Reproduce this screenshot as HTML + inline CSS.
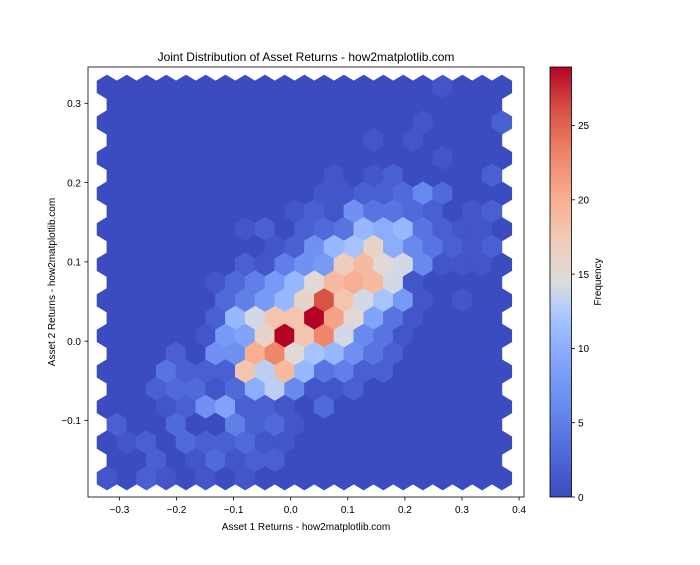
<!DOCTYPE html>
<html><head><meta charset="utf-8"><style>
body{margin:0;background:#fff;}
svg text{font-family:"Liberation Sans","DejaVu Sans",sans-serif;fill:#000;}
</style></head><body>
<svg id="s" width="700" height="560" xmlns="http://www.w3.org/2000/svg">
<defs><linearGradient id="cb" x1="0" y1="1" x2="0" y2="0">
<stop offset="0" stop-color="#3b4cc0"/><stop offset="0.1" stop-color="#4f69d9"/><stop offset="0.2" stop-color="#6687ed"/><stop offset="0.3" stop-color="#7ea0fa"/><stop offset="0.4" stop-color="#9ebeff"/><stop offset="0.45" stop-color="#bcd0f5"/><stop offset="0.5" stop-color="#dddcdc"/><stop offset="0.6" stop-color="#f2cbb7"/><stop offset="0.7" stop-color="#f7ac8e"/><stop offset="0.8" stop-color="#ee8468"/><stop offset="0.9" stop-color="#d65244"/><stop offset="1" stop-color="#b40426"/>
</linearGradient><clipPath id="ax"><rect x="88" y="67" width="436" height="430"/></clipPath></defs>
<g id="hex" clip-path="url(#ax)"></g>
<rect x="88" y="67" width="436" height="430" fill="none" stroke="#000" stroke-width="0.8"/>
<g stroke="#000" stroke-width="0.8">
<line x1="119.4" y1="497" x2="119.4" y2="500.5"/><line x1="176.5" y1="497" x2="176.5" y2="500.5"/><line x1="233.6" y1="497" x2="233.6" y2="500.5"/><line x1="290.7" y1="497" x2="290.7" y2="500.5"/><line x1="347.8" y1="497" x2="347.8" y2="500.5"/><line x1="404.9" y1="497" x2="404.9" y2="500.5"/><line x1="462" y1="497" x2="462" y2="500.5"/><line x1="519.1" y1="497" x2="519.1" y2="500.5"/>
<line x1="84.5" y1="103.3" x2="88" y2="103.3"/><line x1="84.5" y1="182.6" x2="88" y2="182.6"/><line x1="84.5" y1="261.9" x2="88" y2="261.9"/><line x1="84.5" y1="341.2" x2="88" y2="341.2"/><line x1="84.5" y1="420.5" x2="88" y2="420.5"/>
</g>
<g font-size="10" text-anchor="middle">
<text x="119.4" y="513">−0.3</text><text x="176.5" y="513">−0.2</text><text x="233.6" y="513">−0.1</text><text x="290.7" y="513">0.0</text><text x="347.8" y="513">0.1</text><text x="404.9" y="513">0.2</text><text x="462" y="513">0.3</text><text x="519.1" y="513">0.4</text>
</g>
<g font-size="10" text-anchor="end">
<text x="81" y="107">0.3</text><text x="81" y="186.5">0.2</text><text x="81" y="265.5">0.1</text><text x="81" y="345">0.0</text><text x="81" y="424">−0.1</text>
</g>
<text x="306" y="61" font-size="12" text-anchor="middle">Joint Distribution of Asset Returns - how2matplotlib.com</text>
<text x="306" y="530" font-size="10" text-anchor="middle">Asset 1 Returns - how2matplotlib.com</text>
<text transform="translate(55,282) rotate(-90)" font-size="10" text-anchor="middle">Asset 2 Returns - how2matplotlib.com</text>
<rect x="550" y="67" width="21.5" height="430" fill="url(#cb)" stroke="#000" stroke-width="0.8"/>
<g stroke="#000" stroke-width="0.8">
<line x1="571.5" y1="497" x2="575" y2="497"/><line x1="571.5" y1="422.7" x2="575" y2="422.7"/><line x1="571.5" y1="348.4" x2="575" y2="348.4"/><line x1="571.5" y1="274.1" x2="575" y2="274.1"/><line x1="571.5" y1="199.8" x2="575" y2="199.8"/><line x1="571.5" y1="125.5" x2="575" y2="125.5"/>
</g>
<g font-size="10">
<text x="578" y="501">0</text><text x="578" y="426.5">5</text><text x="578" y="352">10</text><text x="578" y="278">15</text><text x="578" y="203.5">20</text><text x="578" y="129">25</text>
</g>
<text transform="translate(601,282) rotate(-90)" font-size="10" text-anchor="middle">Frequency</text>
</svg>
<script>
var stops=[[0,59,76,192],[0.1,79,105,217],[0.2,102,135,237],[0.3,126,160,250],[0.4,158,190,255],[0.45,188,208,245],[0.5,221,220,220],[0.6,242,203,183],[0.7,247,172,142],[0.8,238,132,104],[0.9,214,82,68],[1,180,4,38]];
function cm(v){v=Math.max(0,Math.min(1,v));for(var i=1;i<stops.length;i++){if(v<=stops[i][0]){var a=stops[i-1],b=stops[i],t=(v-a[0])/(b[0]-a[0]);return 'rgb('+[1,2,3].map(function(j){return Math.round(a[j]+(b[j]-a[j])*t)}).join(',')+')';}}return 'rgb(180,4,38)';}
var D={
0:{17:1},2:{16:1,20:2},3:{13:1,15:1},4:{17:1},
5:{11:1,13:1,14:2,19:2},
6:{11:1,12:1,13:2,14:2,15:3,16:6,17:3},
7:{9:1,10:2,11:1,12:7,13:4,14:4,15:3,16:2,18:1,19:2},
8:{7:1,8:2,10:2,11:3,12:4,13:11,14:10,15:11,16:4,17:2,18:1,19:1},
9:{8:1,9:2,10:7,11:11,12:12,13:16,14:10,15:6,16:4,17:2,18:1,19:2},
10:{7:2,8:1,9:5,10:7,11:8,12:17,13:19,14:15,15:14,16:6,17:1,18:1,19:1},
11:{5:1,6:3,7:5,8:8,9:11,10:15,11:19,12:20,13:19,14:14,15:1},
12:{6:3,7:5,8:8,9:11,10:16,11:26,12:18,13:14,14:12,15:8,16:1,18:1},
13:{5:2,6:11,7:14,8:18,9:18,10:29,11:21,12:15,13:9,14:4,15:1},
14:{5:1,6:8,7:9,8:16,9:29,10:18,11:23,12:14,13:6,14:4,15:1},
15:{3:2,5:7,6:7,7:20,8:23,9:15,10:12,11:11,12:7,13:4,14:2},
16:{3:4,4:2,5:2,6:2,7:18,8:13,9:19,10:11,11:4,12:5,13:2,14:2},
17:{2:2,3:3,4:3,5:1,6:3,7:10,8:13,9:6,10:1,11:1,12:2},
18:{3:1,4:2,5:7,6:9,7:2,8:2,9:1,11:3},
19:{0:2,3:3,6:5,7:2,8:3,9:1},
20:{1:1,2:2,4:3,5:2,6:2,7:3,8:1,9:1},
21:{2:2,4:1,5:3,6:1,7:2,8:2},
22:{0:1,2:2,3:1,5:1,7:1}};
var g=document.getElementById('hex'),h='',sx=19.75,sy=35.57,hx=sx/2,p=sy/3,q=sy/6;
for(var r=0;r<23;r++){var cy=86.9+r*sy/2,odd=r%2,n=odd?20:21,x0=odd?116.8:106.9;
for(var k=0;k<n;k++){var cx=x0+k*sx,v=(D[r]&&D[r][k])||0,c=cm(v/29);
h+='<polygon points="'+[cx,cy-p,cx+hx,cy-q,cx+hx,cy+q,cx,cy+p,cx-hx,cy+q,cx-hx,cy-q].map(function(z){return z.toFixed(2)}).join(' ')+'" fill="'+c+'" stroke="'+c+'" stroke-width="0.6"/>';}}
g.innerHTML=h;
</script>
</body></html>
